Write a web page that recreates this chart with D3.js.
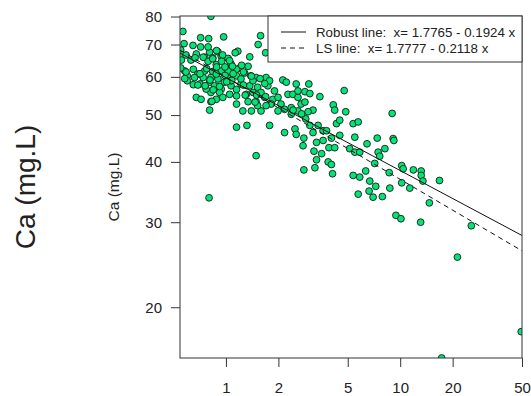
<!DOCTYPE html>
<html>
<head>
<meta charset="utf-8">
<script src="https://cdn.jsdelivr.net/npm/d3@7"></script>
<style>
body { margin: 0; background: #fff; }
text { font-family: "Liberation Sans", Arial, sans-serif; fill: #222; }
</style>
</head>
<body>
<svg id="chart" width="531" height="396"></svg>
<script>
// tick values on both log axes
var xTicks = [1, 2, 5, 10, 20, 50];
var yTicks = [20, 30, 40, 50, 60, 70, 80];

// log10(Ca) = a + b * log10(x)
var robustFit = [1.7765, -0.1924];
var lsFit = [1.7777, -0.2118];
var legendLabels = ['Robust line:  x= 1.7765 - 0.1924 x', 'LS line:  x= 1.7777 - 0.2118 x'];

// [x, Ca]
var samples = [
  [0.82,80.1],[0.566,74.5],[0.716,72.3],[0.796,72],[0.97,72.6],[1.58,73],[1.53,70],[1.69,67.3],
  [1.17,67.8],[1.13,67.3],[1.37,66],[0.575,70.3],[0.647,69.7],[0.716,69.2],[0.806,67.5],[0.9,67.6],
  [0.55,68.2],[0.56,66.6],[0.676,66.9],[0.755,65.9],[0.84,65.7],[0.94,66.2],[0.79,64.6],[1.03,65.5],
  [1.07,63.8],[0.88,63.6],[0.58,61.7],[0.65,62.2],[0.69,60.8],[0.6,60.3],[0.755,61.7],[0.84,61.5],
  [0.94,61.7],[1.2,62.6],[1.34,63.1],[1.28,61.1],[1.15,60.3],[1.02,59.8],[0.9,59.4],[0.806,58.5],
  [0.71,58],[0.74,59.8],[1.39,60.3],[1.49,59.8],[1.7,59.8],[1.52,57.1],[1.74,57.5],[1.37,57.5],
  [1.22,58],[1.07,57.5],[0.94,56.6],[0.82,55.7],[0.92,55.7],[0.676,54.4],[0.72,53.9],[0.82,53.3],
  [0.806,51.2],[1.05,55.2],[1.15,54.8],[1.31,55.2],[1.34,53.3],[1.49,53.3],[1.67,54.4],[1.86,53.9],
  [1.9,56.1],[1.78,58.9],[2.12,59.1],[2.22,58.5],[2.53,58],[2.27,55.2],[2.42,55.2],[2.59,54.4],
  [2.07,52.7],[2.17,51.4],[2.37,51.8],[1.99,51],[1.59,51],[1.4,51],[1.52,52.3],[1.25,51],
  [1.15,47.2],[1.32,47.6],[1.78,47.6],[2.17,46],[2.49,46.8],[2.53,45.6],[2.37,50.2],[2.59,51],
  [2.7,52.7],[2.59,56.1],[0.555,65],[0.55,62.6],[0.63,65],[1.15,62.2],[1.0,62.6],[1.03,61.7],
  [1.22,59.4],[1.07,58.9],[0.86,57.5],[0.98,58.5],[0.77,56.6],[1.43,55.7],[1.59,55.7],[1.82,52.7],
  [1.7,52.3],[1.99,54.4],[1.15,52.7],[1.43,58.9],[0.88,53.9],[0.96,54.4],[0.65,57.8],[0.6,58.9],
  [0.66,59.8],[0.82,59.8],[0.88,60.8],
  [0.79,69.2],[0.884,68],[0.957,66.6],[0.59,66.6],[0.665,65.7],[0.74,65.9],[0.84,65.4],[0.945,64.6],
  [1.05,64.8],[0.59,61.4],[0.775,62.4],[0.884,62.9],[0.987,62.9],[1.09,63.1],[1.23,63.4],[1.26,61.4],
  [1.1,60.9],[0.987,60.4],[0.71,60.9],[0.58,59.5],[0.81,59.1],[1.08,59],[1.4,60.2],[1.57,59.5],
  [1.67,58.1],[1.01,58.6],[0.69,57.7],[0.76,57.5],[0.92,57.3],[1.26,57.7],[0.845,56.4],[1.15,56.5],
  [1.29,55],[1.5,55],[1.69,54.6],[0.83,53.4],[1.47,53.2],
  [2.99,58],[3.46,54.6],[4.77,56.2],[4.13,52.5],[4.21,51.2],[4.87,50.8],[8.99,50.4],[4.31,48],
  [4.5,48.8],[5.37,48],[5.74,48.4],[5.49,45],[6.45,43.6],[7.38,44.8],[9.11,44.7],[9.2,44.3],
  [8.17,42.6],[7.47,41.9],[7.63,41.1],[7.14,39.7],[5.13,42.6],[5.49,41.9],[5.86,41.9],[10.2,39.3],
  [10.4,38.7],[11.9,38.5],[13.2,38.3],[13.2,37.5],[13.5,36.5],[8.65,38],[6.34,38.3],[5.37,37.5],
  [5.86,37.2],[6.69,36.5],[7.24,35.6],[8.72,35.3],[10.2,36.2],[11.35,35.3],[5.74,34.3],[6.63,34.8],
  [6.99,33.8],[2.8,38.5],[3.24,38.9],[4.09,37.8],[3.86,40],[4.03,39.5],[3.31,40.4],[3.2,42.1],
  [3.54,41.6],[2.77,43.2],[2.8,44.8],[3.16,46],[3.31,43.9],[3.61,44.3],[3.9,42.8],[4.21,42.8],
  [4.03,44.8],[4.5,45.4],[3.61,46.4],[3.78,46.4],[3.38,47.6],[3.03,47.6],[2.87,49.1],[2.72,50.3],
  [2.43,51.2],[2.84,53.2],[2.84,55.9],[3.03,55.4],[3.16,51.2],[2.96,50.8],
  [16.8,36.6],[7.9,33.9],[14.7,32.9],[9.45,31],[10.1,30.5],[13.1,30],[25.6,29.5],[21.3,25.4],
  [49.5,17.8],[17.3,15.7],[1.49,41.2],[0.8,33.7]
];

var plot = { left: 180, right: 522, top: 16, bottom: 358 };

var svg = d3.select('#chart');

var x = d3.scaleLog().domain([0.545, 50]).range([plot.left, plot.right]);
var y = d3.scaleLog().domain([15.7, 80.2]).range([plot.bottom, plot.top]);

svg.append('defs').append('clipPath').attr('id', 'plot-clip')
  .append('rect')
  .attr('x', plot.left).attr('y', plot.top)
  .attr('width', plot.right - plot.left).attr('height', plot.bottom - plot.top);

var inner = svg.append('g').attr('clip-path', 'url(#plot-clip)');

inner.selectAll('circle.pt')
  .data(samples)
  .enter()
  .append('circle')
  .attr('class', 'pt')
  .attr('cx', function(d) { return x(d[0]); })
  .attr('cy', function(d) { return y(d[1]); })
  .attr('r', 3.4)
  .style('fill', '#00e676')
  .style('stroke', '#1a1a1a')
  .style('stroke-width', 0.9);

function fitLine(fit) {
  return x.domain().map(function(v) { return [v, Math.pow(10, fit[0] + fit[1] * Math.log10(v))]; });
}
var line = d3.line()
  .x(function(d) { return x(d[0]); })
  .y(function(d) { return y(d[1]); });

inner.append('path')
  .attr('d', line(fitLine(robustFit)))
  .style('fill', 'none').style('stroke', '#111').style('stroke-width', 1);
inner.append('path')
  .attr('d', line(fitLine(lsFit)))
  .style('fill', 'none').style('stroke', '#111').style('stroke-width', 1)
  .style('stroke-dasharray', '5,4');

// box
svg.append('rect')
  .attr('x', plot.left).attr('y', plot.top)
  .attr('width', plot.right - plot.left).attr('height', plot.bottom - plot.top)
  .style('fill', 'none').style('stroke', '#333').style('stroke-width', 1);

// axes
var yAxis = svg.append('g')
  .attr('transform', 'translate(' + plot.left + ',0)')
  .call(d3.axisLeft(y).tickValues(yTicks).tickFormat(d3.format('d')).tickSize(9).tickPadding(9));
var xAxis = svg.append('g')
  .attr('transform', 'translate(0,' + plot.bottom + ')')
  .call(d3.axisBottom(x).tickValues(xTicks).tickFormat(d3.format('d')).tickSize(9).tickPadding(15));
[yAxis, xAxis].forEach(function(a) {
  a.select('.domain').remove();
  a.selectAll('line').style('stroke', '#333');
  a.selectAll('text').style('font-size', '15px').style('font-family', '"Liberation Sans", Arial, sans-serif').style('fill', '#222');
});

// axis titles
svg.append('text')
  .attr('transform', 'translate(119,' + ((plot.top + plot.bottom) / 2) + ') rotate(-90)')
  .attr('text-anchor', 'middle')
  .style('font-size', '15.5px')
  .text('Ca (mg.L)');
svg.append('text')
  .attr('transform', 'translate(35,' + ((plot.top + plot.bottom) / 2) + ') rotate(-90)')
  .attr('text-anchor', 'middle')
  .style('font-size', '28px')
  .text('Ca (mg.L)');

// legend
var lg = svg.append('g');
lg.append('rect')
  .attr('x', 268).attr('y', plot.top)
  .attr('width', plot.right - 268).attr('height', 46)
  .style('fill', '#fff').style('stroke', '#333').style('stroke-width', 1);
legendLabels.forEach(function(lbl, i) {
  var ly = 32 + i * 16;
  lg.append('line')
    .attr('x1', 281).attr('x2', 306).attr('y1', ly).attr('y2', ly)
    .style('stroke', '#111').style('stroke-width', 1)
    .style('stroke-dasharray', i ? '5,4' : null);
  lg.append('text')
    .attr('x', 316).attr('y', ly).attr('dy', '0.35em')
    .style('font-size', '13.3px')
    .style('white-space', 'pre')
    .text(lbl);
});
</script>
</body>
</html>
